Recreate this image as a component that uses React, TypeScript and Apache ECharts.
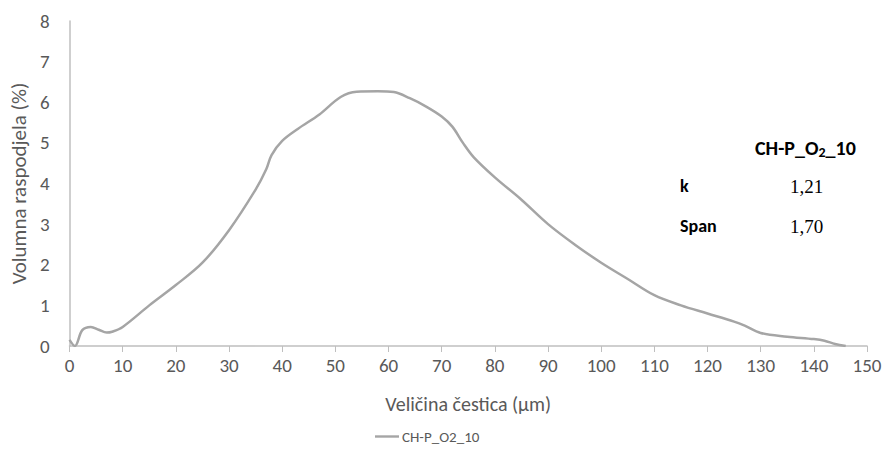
import React, { useEffect, useRef } from "react";
import * as echarts from "echarts";

const sizes = [0, 1, 2.4, 4, 5.5, 7, 8, 10, 15, 20, 25, 30, 35, 37, 38, 40, 43, 47, 51, 54, 58, 61, 64, 67, 70, 72, 74, 76, 80, 85, 90, 95, 100, 105, 110, 115, 120, 125, 127, 130, 135, 140, 142, 144, 146];
const volumes = [0.15, 0.0, 0.39, 0.47, 0.4, 0.33, 0.35, 0.47, 1.0, 1.5, 2.05, 2.85, 3.85, 4.35, 4.7, 5.05, 5.35, 5.7, 6.13, 6.26, 6.27, 6.25, 6.1, 5.9, 5.65, 5.4, 5.0, 4.65, 4.15, 3.6, 3.0, 2.5, 2.05, 1.65, 1.25, 1.0, 0.8, 0.6, 0.5, 0.32, 0.23, 0.17, 0.13, 0.05, 0.0];
const seriesName = "CH-P_O2_10";
const statLabels = ["k", "Span"];
const statValues = ["1,21", "1,70"];

const FONT = "Carlito, Calibri, 'Open Sans', 'Noto Sans', sans-serif";

export default function App() {
  const ref = useRef<HTMLDivElement>(null);
  useEffect(() => {
    document.body.style.margin = "0";
    if (!ref.current) return;
    const chart = echarts.init(ref.current, null, { renderer: "svg" });
    const data = sizes.map((s, i) => [s, volumes[i]]);
    chart.setOption({
      animation: false,
      backgroundColor: "#fff",
      grid: { left: 67, right: 18, top: 21, bottom: 124 },
      legend: {
        data: [seriesName],
        top: 424,
        left: 370,
        icon: "path://M0,0 L30,0 L30,3 L0,3 Z",
        itemWidth: 24,
        itemHeight: 3,
        itemGap: 4,
        textStyle: { color: "#595959", fontSize: 15, fontFamily: FONT, padding: [0, 0, 0, -2] },
      },
      xAxis: {
        type: "value",
        min: 0,
        max: 150,
        interval: 10,
        name: "Veličina čestica (µm)",
        nameLocation: "middle",
        nameGap: 48,
        nameTextStyle: { color: "#595959", fontSize: 20, fontFamily: FONT },
        axisLine: { show: true, lineStyle: { color: "#BFBFBF", width: 1.5 } },
        axisTick: { show: true, length: 6, lineStyle: { color: "#BFBFBF" } },
        axisLabel: { color: "#595959", fontSize: 19, fontFamily: FONT, margin: 10 },
        splitLine: { show: false },
      },
      yAxis: {
        type: "value",
        min: 0,
        max: 8,
        interval: 1,
        name: "Volumna raspodjela (%)",
        nameLocation: "middle",
        nameGap: 35,
        nameTextStyle: { color: "#595959", fontSize: 21, fontFamily: FONT },
        axisLine: { show: true, lineStyle: { color: "#BFBFBF", width: 1.5 } },
        axisTick: { show: false },
        axisLabel: { color: "#595959", fontSize: 19, fontFamily: FONT, margin: 20 },
        splitLine: { show: false },
      },
      series: [
        {
          name: seriesName,
          type: "line",
          data,
          smooth: 0.35,
          showSymbol: false,
          lineStyle: { color: "#A5A5A5", width: 2.5 },
          itemStyle: { color: "#A5A5A5" },
        },
      ],
      graphic: [
        {
          type: "text",
          x: 755,
          y: 148,
          style: {
            text: "{b|CH-P_O}{s|2}{b|_10}",
            textVerticalAlign: "middle",
            rich: {
              b: { fontFamily: FONT, fontWeight: "bold", fontSize: 20, fill: "#000" },
              s: { fontFamily: FONT, fontWeight: "bold", fontSize: 14, fill: "#000", padding: [9, 0, 0, 0] },
            },
          },
        },
        ...statLabels.map((t, i) => ({
          type: "text",
          x: 680,
          y: 186 + i * 40,
          style: { text: t, fontFamily: FONT, fontWeight: "bold", fontSize: 18, fill: "#000", textVerticalAlign: "middle" },
        })),
        ...statValues.map((t, i) => ({
          type: "text",
          x: 790,
          y: 186 + i * 40,
          style: { text: t, fontFamily: "'Liberation Serif', serif", fontSize: 19, fill: "#000", textVerticalAlign: "middle" },
        })),
      ],
    });
    return () => chart.dispose();
  }, []);
  return <div ref={ref} style={{ width: 885, height: 470 }} />;
}
